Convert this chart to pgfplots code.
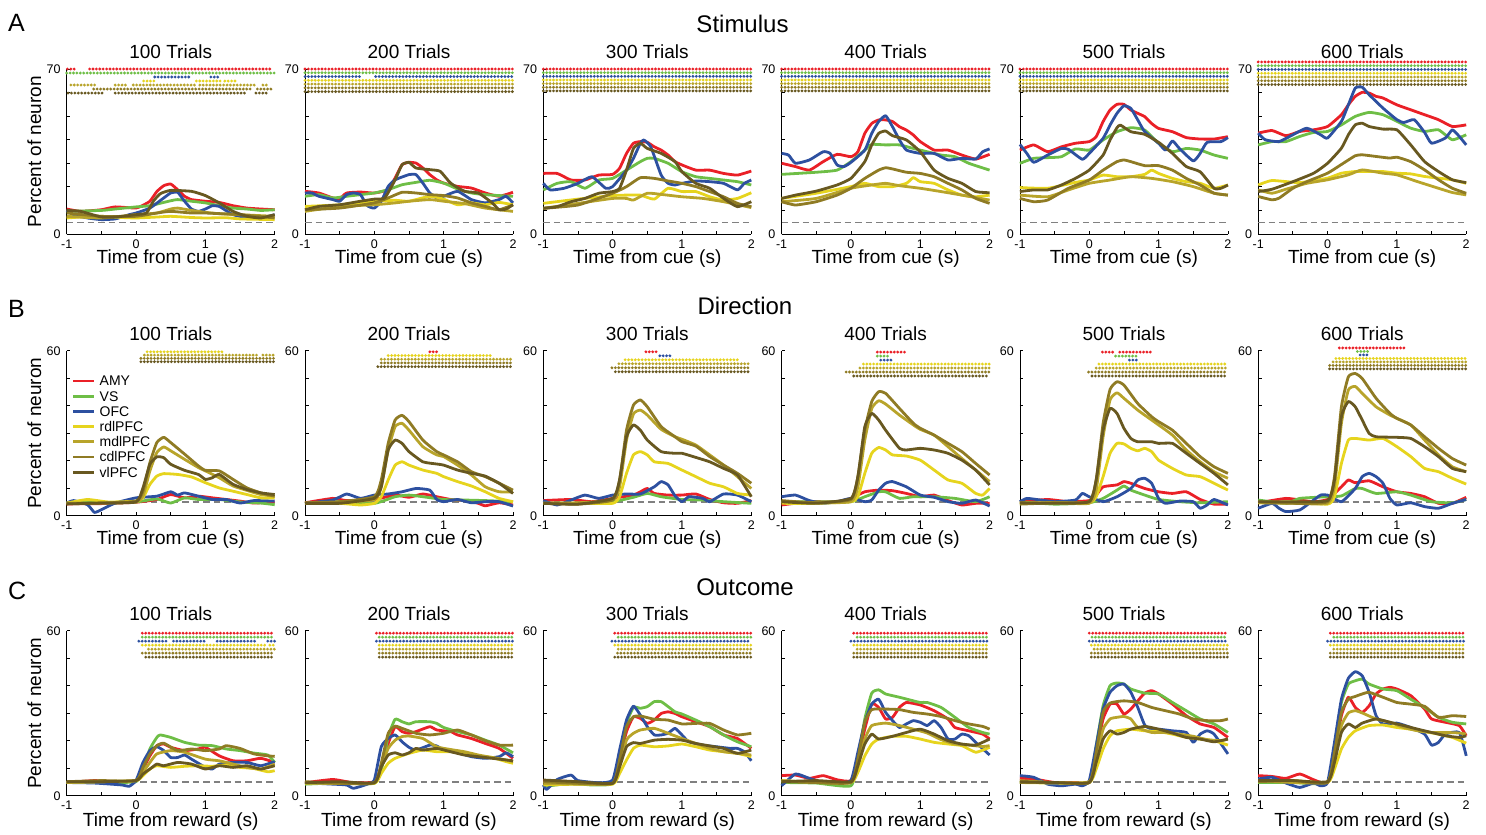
\documentclass[border=0pt]{standalone}
\usepackage{fontspec}
\setmainfont{Liberation Sans}
\usepackage{pgfplots}
\pgfplotsset{compat=1.18}
\definecolor{cAMY}{RGB}{234,32,39}
\definecolor{cVS}{RGB}{110,190,70}
\definecolor{cOFC}{RGB}{45,80,160}
\definecolor{cRD}{RGB}{230,212,30}
\definecolor{cMD}{RGB}{184,164,42}
\definecolor{cCD}{RGB}{143,123,36}
\definecolor{cVL}{RGB}{104,88,32}
\pgfplotsset{
 ln/.style={line width=2.8pt, smooth, tension=0.3, line join=round},
 sigdot/.style={line width=3.1pt, line cap=round, dash pattern=on 0pt off 3.4pt},
 chance/.style={line width=1.3pt, color=black!50, dash pattern=on 6.5pt off 4pt},
 every axis title shift=0pt,
 panel/.style={
  scale only axis, width=208pt, height=165pt, anchor=south west,
  xmin=-1, xmax=2, ymin=0,
  axis x line*=bottom, axis y line*=left,
  axis line style={line width=0.8pt, black},
  tick align=inside, major tick length=3.5pt,
  tick style={line width=0.8pt, black},
  xtick={-1,-0.5,0,0.5,1,1.5,2}, xticklabels={-1,,0,,1,,2},
  clip=false, unbounded coords=jump,
  ticklabel style={font=\fontsize{12.5}{13}\selectfont},
  xticklabel style={anchor=base, inner sep=0pt, yshift=-14pt},
  yticklabel style={anchor=east, inner sep=0pt, xshift=-6pt},
  title style={font=\fontsize{19}{22}\selectfont, at={(axis description cs:0.5,1.062)}, anchor=base, inner sep=0pt},
  xlabel style={font=\fontsize{19}{22}\selectfont, at={(axis description cs:0.5,-0.177)}, anchor=base, inner sep=0pt},
  ylabel style={font=\fontsize{19}{22}\selectfont, at={(axis description cs:-0.156,0.5)}, anchor=center},
  xlabel={Time from cue (s)},
 },
 rowA/.style={panel, ymax=70, ytick={0,10,20,30,40,50,60,70}, yticklabels={0,,,,,,,70}},
 rowB/.style={panel, ymax=60, ytick={0,10,20,30,40,50,60}, yticklabels={0,,,,,,60}},
 rowC/.style={panel, ymax=60, ytick={0,10,20,30,40,50,60}, yticklabels={0,,,,,,60}, xlabel={Time from reward (s)}, xlabel style={at={(axis description cs:0.5,-0.185)}}},
}
\newcommand{\curves}[7]{%
\addplot[forget plot, chance] coordinates {(-1,5) (2,5)};
\addplot[ln,cAMY] coordinates {#1};
\addplot[ln,cVS] coordinates {#2};
\addplot[ln,cOFC] coordinates {#3};
\addplot[ln,cRD] coordinates {#4};
\addplot[ln,cMD] coordinates {#5};
\addplot[ln,cCD] coordinates {#6};
\addplot[ln,cVL] coordinates {#7};
}
\newcommand{\sig}[2]{\addplot[forget plot, sigdot, #1] coordinates {#2};}
\newcommand{\fullrows}[7]{\sig{cAMY}{(-1,#1)(2,#1)}\sig{cVS}{(-1,#2)(2,#2)}\sig{cOFC}{(-1,#3)(2,#3)}\sig{cRD}{(-1,#4)(2,#4)}\sig{cMD}{(-1,#5)(2,#5)}\sig{cCD}{(-1,#6)(2,#6)}\sig{cVL}{(-1,#7)(2,#7)}}
\newcommand{\crows}[7]{\sig{cAMY}{(#1,59.1)(2,59.1)}\sig{cVS}{(#2,57.65)(2,57.65)}\sig{cOFC}{(#3,56.2)(2,56.2)}\sig{cRD}{(#4,54.75)(2,54.75)}\sig{cMD}{(#5,53.3)(2,53.3)}\sig{cCD}{(#6,51.85)(2,51.85)}\sig{cVL}{(#7,50.4)(2,50.4)}}
\begin{document}
\begin{tikzpicture}
\path[use as bounding box] (0pt,0pt) rectangle (1486pt,-835pt);
\node[anchor=base west, font=\fontsize{25}{27}\selectfont, inner sep=0pt] at (8pt,-31.5pt) {A};
\node[anchor=base west, font=\fontsize{25}{27}\selectfont, inner sep=0pt] at (8pt,-317.5pt) {B};
\node[anchor=base west, font=\fontsize{25}{27}\selectfont, inner sep=0pt] at (8pt,-599pt) {C};
\node[anchor=base, font=\fontsize{24}{26}\selectfont, inner sep=0pt] at (742.5pt,-32.5pt) {Stimulus};
\node[anchor=base, font=\fontsize{24}{26}\selectfont, inner sep=0pt] at (745pt,-314pt) {Direction};
\node[anchor=base, font=\fontsize{24}{26}\selectfont, inner sep=0pt] at (745pt,-595.5pt) {Outcome};
%% ---------------- Row A: Stimulus
\begin{axis}[rowA, at={(66.7pt,-234pt)}, title={100 Trials}, ylabel={Percent of neuron}]
\sig{cAMY}{(-0.99,70)(-0.85,70)(0,nan)(-0.67,70)(1.97,70)}
\sig{cVS}{(-1,68.3)(2,68.3)}
\sig{cOFC}{(0.27,66.6)(0.8,66.6)(0,nan)(1.08,66.6)(1.2,66.6)}
\sig{cRD}{(0.11,64.9)(0.3,64.9)(0,nan)(0.87,64.9)(1.23,64.9)(0,nan)(1.28,64.9)(1.46,64.9)}
\sig{cMD}{(-0.94,63.2)(-0.56,63.2)(0,nan)(-0.3,63.2)(-0.14,63.2)(0,nan)(-0.04,63.2)(0.86,63.2)(0,nan)(0.92,63.2)(1.75,63.2)(0,nan)(1.83,63.2)(1.91,63.2)}
\sig{cCD}{(-0.61,61.5)(1.65,61.5)(0,nan)(1.75,61.5)(1.97,61.5)}
\sig{cVL}{(-0.98,59.8)(-0.46,59.8)(0,nan)(-0.3,59.8)(1.57,59.8)(0,nan)(1.73,59.8)(1.9,59.8)}
\curves
{(-1,10.6)(-0.8,9.6)(-0.5,10.3)(-0.3,11.5)(0,11)(0.1,12.2)(0.2,13.9)(0.3,18)(0.4,20.5)(0.5,21.2)(0.6,18.8)(0.7,16)(0.8,14.6)(1,13.9)(1.2,13.4)(1.4,12)(1.6,11)(1.8,10.6)(2,10.3)}
{(-1,9.6)(-0.5,10)(-0.3,10.6)(0,11.5)(0.2,12)(0.4,13.4)(0.5,14.1)(0.6,14.6)(0.8,13.9)(1,13.2)(1.2,12)(1.4,11)(1.6,10.6)(1.8,10)(2,10.3)}
{(-1,10)(-0.9,8.2)(-0.7,6.8)(-0.5,6.1)(-0.3,6.4)(-0.1,8.2)(0,8.9)(0.2,11)(0.4,15.3)(0.5,17.4)(0.6,17.7)(0.7,13.9)(0.8,10.6)(0.9,9.6)(1,10.6)(1.1,12)(1.2,11.7)(1.3,9.9)(1.4,8.2)(1.6,6.8)(1.8,6.8)(2,8.2)}
{(-1,6.8)(-0.7,7.4)(-0.5,7.5)(-0.2,7.0)(0,6.8)(0.3,7.2)(0.5,7.5)(0.8,7.0)(1,6.8)(1.3,6.9)(1.5,6.4)(1.8,6.2)(2,6.1)}
{(-1,7.5)(-0.5,6.8)(0,8.2)(0.3,8.9)(0.5,10.6)(0.6,11)(0.8,10)(1,9.2)(1.2,8.6)(1.5,8.2)(2,7.5)}
{(-1,8.9)(-0.5,7.5)(0,7.5)(0.3,8.9)(0.5,9.6)(0.8,8.9)(1,8.9)(1.5,8.2)(2,6.8)}
{(-1,10)(-0.8,9.6)(-0.5,7.2)(-0.3,7.2)(0,8.2)(0.15,8.9)(0.25,13.9)(0.35,17.1)(0.5,18.5)(0.8,18.1)(1,16.3)(1.2,13.2)(1.4,9.6)(1.6,7.5)(1.8,6.8)(2,8.2)}
\end{axis}
\begin{axis}[rowA, at={(305pt,-234pt)}, title={200 Trials}]
\sig{cAMY}{(-1,70)(2,70)}
\sig{cVS}{(-1,68.4)(2,68.4)}
\sig{cOFC}{(-1,66.8)(-0.17,66.8)(0,nan)(0.02,66.8)(2,66.8)}
\sig{cRD}{(-1,65.2)(2,65.2)}
\sig{cMD}{(-1,63.6)(2,63.6)}
\sig{cCD}{(-1,62)(2,62)}
\sig{cVL}{(-1,60.4)(2,60.4)}
\curves
{(-1,18.1)(-0.8,17.4)(-0.6,15.3)(-0.5,15)(-0.4,17.4)(-0.2,17.8)(0,17.4)(0.2,18.8)(0.3,23.8)(0.4,29.4)(0.5,30.4)(0.6,30.1)(0.7,28)(0.8,25.2)(0.9,23)(1,21.6)(1.2,20.2)(1.4,19.5)(1.6,17.4)(1.8,16)(2,17.7)}
{(-1,16)(-0.8,16.7)(-0.6,15.3)(-0.4,16)(-0.2,16.7)(0,17.4)(0.2,18.8)(0.4,20.9)(0.6,21.9)(0.8,22.8)(1,21.6)(1.2,19.1)(1.4,17.4)(1.6,16.7)(1.8,16.3)(2,16)}
{(-1,17.4)(-0.9,17.4)(-0.8,16)(-0.6,14.6)(-0.5,13.9)(-0.4,16.7)(-0.3,17.4)(-0.2,16.7)(-0.1,12)(0,11)(0.1,13.9)(0.2,20.2)(0.3,23)(0.5,25.2)(0.6,25.2)(0.7,21.6)(0.8,17.4)(0.9,15.3)(1,16)(1.2,18.1)(1.4,14.6)(1.6,13.2)(1.8,14.6)(1.9,16)(2,13.2)}
{(-1,11.7)(-0.5,12.4)(0,13.9)(0.3,14.3)(0.5,13.9)(0.8,16)(1,14.8)(1.2,12.4)(1.4,13.2)(1.6,12.4)(1.8,13.4)(2,12.4)}
{(-1,9.6)(-0.5,11.7)(0,12.4)(0.3,13.2)(0.5,13.9)(0.8,14.6)(1,13.9)(1.3,12.9)(1.6,11)(2,9.6)}
{(-1,10.3)(-0.5,11)(0,13.2)(0.2,15.3)(0.4,17.7)(0.6,17.4)(0.8,16.7)(1,16.3)(1.2,15.3)(1.4,13.2)(1.6,11.7)(1.8,10.3)(2,12.4)}
{(-1,10.3)(-0.8,11.7)(-0.5,12.4)(-0.2,13.9)(0,14.8)(0.15,15.3)(0.3,23)(0.4,29.4)(0.5,30.4)(0.6,28)(0.8,27.3)(0.95,26.6)(1.1,21.6)(1.3,18.1)(1.5,17.4)(1.7,13.2)(1.8,10.3)(1.9,10.6)(2,12.4)}
\end{axis}
\begin{axis}[rowA, at={(543.3pt,-234pt)}, title={300 Trials}]
\fullrows{70}{68.45}{66.9}{65.35}{63.8}{62.25}{60.7}
\curves
{(-1,25.7)(-0.8,25.7)(-0.6,22.9)(-0.4,22.9)(-0.2,25)(0,25.3)(0.1,27.9)(0.2,34.2)(0.3,38.5)(0.4,39.2)(0.5,38.9)(0.6,37)(0.7,35.6)(0.8,33.5)(0.9,30.7)(1,29.3)(1.2,27.1)(1.4,27.1)(1.6,25.7)(1.8,25)(2,26.7)}
{(-1,18.7)(-0.8,21.5)(-0.6,22.2)(-0.4,19.4)(-0.2,22.9)(0,23.6)(0.2,27.1)(0.4,30.7)(0.5,32.1)(0.6,32.1)(0.8,30)(1,26.4)(1.2,24.3)(1.4,23.6)(1.6,22.9)(1.8,22.2)(2,20.8)}
{(-1,21.5)(-0.9,18.7)(-0.7,19.4)(-0.5,21.5)(-0.3,24.3)(-0.1,19.4)(0,20.1)(0.2,27.1)(0.3,32.1)(0.4,38.5)(0.45,39.9)(0.55,37)(0.7,25)(0.8,21.5)(0.9,20.8)(1,21.5)(1.2,22.5)(1.4,22.2)(1.6,21.5)(1.8,18.7)(1.9,21.5)(2,22.9)}
{(-1,13)(-0.5,14.8)(0,16.3)(0.2,16.5)(0.4,16.5)(0.6,14.8)(0.8,19.4)(1,18)(1.2,18)(1.4,15.8)(1.6,14.4)(1.8,15.1)(2,17.5)}
{(-1,10.9)(-0.5,13)(0,15.1)(0.2,15.1)(0.3,14.4)(0.5,17.3)(0.7,16.8)(1,15.8)(1.3,15.1)(1.6,13.7)(2,11.2)}
{(-1,10.9)(-0.5,12.3)(0,17.3)(0.2,20.1)(0.4,23.9)(0.6,23.6)(0.8,22.5)(1,21.5)(1.2,20.1)(1.4,18)(1.6,15.8)(1.8,13)(2,11.6)}
{(-1,10.9)(-0.8,11.6)(-0.6,13.7)(-0.4,15.1)(-0.2,17.3)(0,18)(0.1,19.4)(0.2,27.1)(0.3,36.3)(0.4,38.5)(0.5,36.3)(0.7,34.2)(0.9,30.7)(1,26.4)(1.2,21.5)(1.4,19.4)(1.6,15.1)(1.8,11.6)(2,13.7)}
\end{axis}
\begin{axis}[rowA, at={(781.6pt,-234pt)}, title={400 Trials}]
\fullrows{70}{68.45}{66.9}{65.35}{63.8}{62.25}{60.7}
\curves
{(-1,30)(-0.8,28.6)(-0.6,27.1)(-0.4,30.7)(-0.2,33.8)(0,32.8)(0.1,34.9)(0.2,42.7)(0.3,46.9)(0.4,48.4)(0.5,48.4)(0.6,47.7)(0.7,45.5)(0.8,44.1)(0.9,42)(1,39.2)(1.2,35.6)(1.4,35.6)(1.6,33.5)(1.8,31.8)(2,33.8)}
{(-1,25.3)(-0.5,26.2)(-0.2,27.1)(0,30.7)(0.2,35.6)(0.3,38)(0.5,37.8)(0.7,37.8)(0.9,36.3)(1.1,34.9)(1.3,33.5)(1.5,32.8)(1.7,30)(2,27.1)}
{(-1,34.2)(-0.9,33.5)(-0.8,30)(-0.6,31.4)(-0.4,34.9)(-0.3,34.2)(-0.2,29.3)(-0.1,28.6)(0,30.4)(0.2,35.6)(0.3,42.7)(0.4,47.7)(0.5,50.2)(0.6,45.5)(0.7,39.9)(0.8,35.6)(1,34.2)(1.2,34.2)(1.4,31.4)(1.6,32.1)(1.8,31.8)(1.9,34.9)(2,36.1)}
{(-1,15.1)(-0.5,17.3)(0,20.1)(0.2,21.5)(0.4,20.1)(0.6,20.1)(0.8,21.5)(0.9,23.9)(1,22.2)(1.2,21.5)(1.4,18.7)(1.6,16.5)(1.8,15.8)(2,16.5)}
{(-1,13.7)(-0.5,15.1)(0,19.4)(0.3,20.8)(0.5,21.5)(0.7,20.5)(1,19.4)(1.3,18)(1.6,16.5)(2,14.4)}
{(-1,13.7)(-0.8,12.3)(-0.5,13.7)(-0.2,16.5)(0,19.4)(0.2,23.6)(0.4,27.1)(0.5,28.1)(0.6,27.6)(0.8,26.2)(1,25.7)(1.2,24.3)(1.4,21.5)(1.6,18.7)(1.8,15.1)(2,13)}
{(-1,15.1)(-0.8,16.5)(-0.5,18.2)(-0.2,20.8)(0,23.6)(0.2,30.7)(0.3,37.8)(0.4,42.7)(0.5,43.7)(0.6,41.7)(0.8,39.9)(1,34.9)(1.2,27.1)(1.4,23.6)(1.6,21.5)(1.8,18)(2,17.5)}
\end{axis}
\begin{axis}[rowA, at={(1019.9pt,-234pt)}, title={500 Trials}]
\fullrows{70}{68.45}{66.9}{65.35}{63.8}{62.25}{60.7}
\curves
{(-1,35.6)(-0.8,37.8)(-0.6,34.9)(-0.4,37)(-0.2,38.5)(0,39.2)(0.1,41.3)(0.2,47.7)(0.3,52.6)(0.4,55)(0.5,55)(0.6,52.6)(0.7,51.2)(0.8,49.8)(0.9,46.9)(1,44.8)(1.2,43.4)(1.4,40.9)(1.6,40.3)(1.8,40.3)(2,41.3)}
{(-1,30)(-0.8,32.1)(-0.6,32.4)(-0.4,32.8)(-0.2,36.1)(0,35.6)(0.2,39.9)(0.4,43.4)(0.6,45.1)(0.8,44.1)(1,38.5)(1.2,34.9)(1.4,36.3)(1.6,35.6)(1.8,33.5)(2,32.1)}
{(-1,38)(-0.9,34.2)(-0.8,30.4)(-0.6,33.5)(-0.4,36.3)(-0.3,35.9)(-0.1,31.7)(0,34.2)(0.2,40.6)(0.3,46.2)(0.4,51.2)(0.5,54.4)(0.6,53.3)(0.7,48.4)(0.8,43.4)(1,38.5)(1.1,35.6)(1.2,39.5)(1.3,36.3)(1.5,31)(1.6,34.2)(1.7,38.9)(1.9,39.2)(2,40.9)}
{(-1,19.7)(-0.6,19.4)(-0.2,21.9)(0,22.9)(0.2,25)(0.4,24.3)(0.6,24.3)(0.8,25.3)(0.9,27.1)(1,25.7)(1.2,23.6)(1.4,22.2)(1.6,21.5)(1.8,19.4)(2,20.8)}
{(-1,16.5)(-0.6,15.8)(-0.3,18.7)(0,21.5)(0.3,22.9)(0.6,24.3)(0.9,23.6)(1.2,22.2)(1.5,20.1)(1.8,17.3)(2,16.5)}
{(-1,15.1)(-0.8,13.7)(-0.6,14.4)(-0.3,19.4)(0,22.9)(0.2,27.1)(0.4,30.7)(0.5,31.4)(0.6,30.7)(0.8,29)(1,29)(1.2,27.1)(1.4,23.6)(1.6,20.8)(1.8,17.3)(2,16.5)}
{(-1,18)(-0.8,18.7)(-0.6,18.7)(-0.4,20.8)(-0.2,23.6)(0,27.1)(0.2,33.5)(0.3,39.9)(0.4,45.1)(0.45,46.2)(0.6,43.4)(0.8,42.3)(1,38.9)(1.2,34.2)(1.4,28.6)(1.6,26.4)(1.8,19.4)(1.9,19.4)(2,20.8)}
\end{axis}
\begin{axis}[rowA, at={(1258.2pt,-234pt)}, title={600 Trials}]
\fullrows{73}{71.4}{69.8}{68.2}{66.6}{65}{63.4}
\curves
{(-1,42.8)(-0.8,43.9)(-0.6,41.7)(-0.4,43.5)(-0.2,44.2)(0,45.6)(0.2,50.6)(0.3,54.8)(0.4,58.4)(0.5,60.1)(0.6,59.8)(0.7,58.4)(0.8,57.7)(1,54.8)(1.2,52.7)(1.4,50.6)(1.6,48.5)(1.8,45.6)(2,46.3)}
{(-1,37.8)(-0.8,39.2)(-0.6,39.2)(-0.4,41.4)(-0.2,43.1)(0,43.5)(0.2,46.3)(0.4,49.9)(0.6,51.6)(0.8,50.6)(1,47.8)(1.2,44.9)(1.4,43.5)(1.6,44.2)(1.8,40)(2,42.1)}
{(-1,42.8)(-0.9,40)(-0.7,39.2)(-0.5,42.1)(-0.3,44.9)(-0.1,42.1)(0,40.7)(0.2,47.8)(0.3,54.8)(0.4,61.9)(0.5,62.3)(0.6,59.1)(0.8,53.4)(1,48.5)(1.1,47.3)(1.25,48.5)(1.4,43.1)(1.5,38.5)(1.7,40.7)(1.8,44.2)(1.9,41.4)(2,37.8)}
{(-1,20.8)(-0.8,22.7)(-0.4,21.8)(0,23.7)(0.2,25.8)(0.4,26.5)(0.6,26.5)(0.8,26.5)(1,25.8)(1.2,25.5)(1.4,24.4)(1.6,23.7)(1.8,23)(2,21.5)}
{(-1,18.7)(-0.8,17.3)(-0.6,19)(-0.3,21.5)(0,23)(0.3,25.1)(0.5,27.2)(0.8,25.8)(1,25.1)(1.3,22.2)(1.6,19.4)(1.8,17.6)(2,16.6)}
{(-1,15.9)(-0.8,14.5)(-0.7,15.2)(-0.5,19.4)(-0.3,22.2)(0,25.8)(0.2,29.5)(0.4,33.2)(0.5,33.6)(0.7,32.9)(0.9,32.2)(1,32.6)(1.2,30.7)(1.4,27.2)(1.6,23)(1.8,19.4)(2,17.3)}
{(-1,18)(-0.8,19)(-0.5,22.2)(-0.2,25.8)(0,30)(0.2,36.4)(0.3,42.1)(0.4,46.3)(0.5,47)(0.6,45.6)(0.8,44.5)(1,44.2)(1.2,37.8)(1.4,30.7)(1.6,26.5)(1.8,23)(2,21.8)}
\end{axis}
%% ---------------- Row B: Direction
\begin{axis}[rowB, at={(66.7pt,-515.7pt)}, title={100 Trials}, ylabel={Percent of neuron},
  legend style={at={(axis description cs:0.024,0.864)}, anchor=north west, draw=none, fill=none,
    font=\fontsize{14}{15}\selectfont, inner xsep=0pt, inner ysep=0pt, row sep=0pt, column sep=4pt,
    nodes={inner sep=0pt, text height=12.6pt, text depth=2.6pt}},
  legend cell align=left,
  legend image code/.code={\draw[#1] (0pt,0pt) -- (21pt,0pt);}]
\curves
{(-1,4.3)(-0.5,4.4)(0,4.9)(0.3,5.9)(0.5,7.7)(0.7,6.5)(0.9,7.1)(1.1,6.5)(1.3,5.9)(1.5,5.3)(1.7,4.6)(2,5)}
{(-1,4.6)(-0.7,5.3)(-0.4,4.6)(0,5)(0.3,6.1)(0.5,4.6)(0.7,6.5)(0.9,5.9)(1.2,5.9)(1.5,5)(1.8,4.6)(2,4)}
{(-1,4.6)(-0.9,5.5)(-0.7,4)(-0.6,1.2)(-0.5,2.2)(-0.3,4.6)(0,6.5)(0.3,7.1)(0.5,8.7)(0.6,7.5)(0.7,8.3)(0.9,7.1)(1.1,5.9)(1.3,5.9)(1.5,4.6)(1.7,5.5)(2,5.3)}
{(-1,4.6)(-0.7,5.9)(-0.4,5)(0,5.3)(0.1,6.5)(0.2,11.4)(0.3,14.4)(0.4,15.3)(0.6,15)(0.8,14.1)(1,12)(1.2,10.1)(1.4,8.9)(1.6,7.7)(1.8,6.5)(2,6.5)}
{(-1,4.6)(-0.5,4.6)(0,5)(0.1,7.1)(0.2,16.3)(0.3,23)(0.4,25)(0.5,23.6)(0.7,20.5)(0.9,17.5)(1,16.3)(1.2,13.8)(1.4,10.8)(1.6,9.2)(1.8,7.7)(2,7.1)}
{(-1,4.3)(-0.5,4.6)(0,5.3)(0.1,8.9)(0.2,19.3)(0.3,26.6)(0.4,28.5)(0.5,26.6)(0.7,22.4)(0.9,18.1)(1,16.5)(1.2,16.3)(1.4,13.2)(1.6,10.1)(1.8,8.3)(2,7.1)}
{(-1,4.3)(-0.5,4.6)(0,5)(0.1,10.1)(0.2,18.7)(0.3,21.4)(0.4,21.1)(0.5,18.7)(0.7,16.5)(0.9,15)(1,13.2)(1.1,13.8)(1.2,15)(1.4,11.4)(1.6,9.5)(1.8,8.3)(2,7.7)}
\legend{AMY,VS,OFC,rdlPFC,mdlPFC,cdlPFC,vlPFC}
\sig{cRD}{(0.16,59.6)(1.27,59.6)}
\sig{cMD}{(0.12,58.4)(1.75,58.4)(0,nan)(1.83,58.4)(2,58.4)}
\sig{cCD}{(0.07,57.2)(2,57.2)}
\sig{cVL}{(0.07,56)(2,56)}
\end{axis}
\begin{axis}[rowB, at={(305pt,-515.7pt)}, title={200 Trials}]
\sig{cAMY}{(0.8,59.6)(0.94,59.6)}
\sig{cRD}{(0.2,58.25)(1.68,58.25)}
\sig{cMD}{(0.1,56.9)(2,56.9)}
\sig{cCD}{(0.1,55.55)(2,55.55)}
\sig{cVL}{(0.05,54.2)(2,54.2)}
\curves
{(-1,4.7)(-0.6,6.3)(-0.4,5.5)(0,5.9)(0.3,7.5)(0.5,6.7)(0.7,7.9)(0.9,6.9)(1.1,5.9)(1.3,5.5)(1.5,4.5)(1.6,3.6)(1.8,4.7)(2,3.9)}
{(-1,4.5)(-0.5,5.1)(0,4.5)(0.3,6.9)(0.5,7.5)(0.7,6.9)(1,5.9)(1.3,5.7)(1.6,5.5)(2,5.1)}
{(-1,4.5)(-0.6,5.7)(-0.4,7.9)(-0.2,6.3)(0,7.5)(0.2,7.9)(0.4,8.7)(0.6,9.9)(0.8,9.3)(0.9,5.9)(1,5.1)(1.2,5.9)(1.4,4.7)(1.6,5.1)(1.8,5.1)(2,3.5)}
{(-1,4.5)(-0.5,4.5)(-0.2,3.9)(0,4.5)(0.1,6.9)(0.2,13)(0.3,18.4)(0.4,19.6)(0.5,18.4)(0.7,16.6)(0.9,15.4)(1,14.2)(1.2,12.4)(1.4,10.8)(1.6,8.7)(1.8,6.3)(2,5.1)}
{(-1,4.5)(-0.5,4.7)(0,5.9)(0.1,10.5)(0.2,23.9)(0.3,32.4)(0.4,33.6)(0.5,31.1)(0.7,25.1)(0.9,22.1)(1,21.5)(1.2,18.4)(1.4,14.8)(1.6,10.5)(1.8,8.7)(2,8.7)}
{(-1,4.7)(-0.5,5.1)(0,6.9)(0.1,13)(0.2,26.3)(0.3,34.8)(0.4,36.5)(0.5,34.2)(0.7,27.5)(0.9,23.3)(1,22.1)(1.2,19.6)(1.4,16)(1.6,14.2)(1.8,11.8)(2,9.3)}
{(-1,4.5)(-0.5,4.5)(0,6.3)(0.1,10.5)(0.2,23.9)(0.3,27.5)(0.4,26.3)(0.5,23.3)(0.7,19.6)(0.9,18.8)(1,18.4)(1.2,16.6)(1.4,15.4)(1.6,14.4)(1.8,11.8)(2,8.1)}
\end{axis}
\begin{axis}[rowB, at={(543.3pt,-515.7pt)}, title={300 Trials}]
\sig{cAMY}{(0.48,59.6)(0.64,59.6)}
\sig{cOFC}{(0.68,58.15)(0.83,58.15)}
\sig{cRD}{(0.18,56.7)(1.81,56.7)}
\sig{cMD}{(0.09,55.25)(2,55.25)}
\sig{cCD}{(-0.01,53.8)(2,53.8)}
\sig{cVL}{(0.04,52.35)(1.98,52.35)}
\curves
{(-1,5.5)(-0.6,5.9)(-0.3,5.1)(0,6.3)(0.3,7.5)(0.4,8.7)(0.5,9.9)(0.6,8.1)(0.8,7.5)(1,7.5)(1.2,7.9)(1.4,5.9)(1.6,4.7)(1.8,4.5)(2,5.5)}
{(-1,4.7)(-0.5,4.5)(0,5.1)(0.3,6.7)(0.5,8.1)(0.7,6.9)(1,5.9)(1.3,5.7)(1.6,5.1)(2,4.5)}
{(-1,5.5)(-0.8,3.9)(-0.6,5.7)(-0.4,7.5)(-0.2,6.3)(0,7.5)(0.2,7.9)(0.4,7.9)(0.6,10.5)(0.7,12.4)(0.8,11.2)(0.9,7.2)(1,5.1)(1.1,6.9)(1.3,6.3)(1.4,5.1)(1.6,7.9)(1.8,7.5)(2,5.1)}
{(-1,4.5)(-0.5,4.5)(0,4.5)(0.1,6.9)(0.2,15.4)(0.3,22.1)(0.4,23.3)(0.5,22.1)(0.6,19.6)(0.8,19)(1,16.6)(1.2,14.2)(1.4,11.8)(1.6,10.5)(1.8,8.1)(2,7.5)}
{(-1,4.5)(-0.5,4.7)(0,5.7)(0.1,10.5)(0.2,27.5)(0.3,37)(0.4,38.4)(0.5,36.6)(0.7,31.4)(0.9,28.7)(1,27.8)(1.2,25.7)(1.4,22.1)(1.6,18.4)(1.8,14.2)(2,9.9)}
{(-1,4.5)(-0.5,4.2)(0,5.7)(0.1,13)(0.2,31.1)(0.3,40.2)(0.4,42.1)(0.5,39.6)(0.7,32.4)(0.9,28.7)(1,26.9)(1.2,25.3)(1.4,21.5)(1.6,18.4)(1.8,15.4)(2,11.8)}
{(-1,4.5)(-0.5,4.2)(0,6.3)(0.1,13)(0.2,28.7)(0.3,33)(0.4,31.1)(0.5,27.5)(0.7,23.3)(0.9,22.7)(1,22.7)(1.2,21.2)(1.4,19.6)(1.6,17.2)(1.8,14.8)(2,6.9)}
\end{axis}
\begin{axis}[rowB, at={(781.6pt,-515.7pt)}, title={400 Trials}]
\sig{cAMY}{(0.38,59.5)(0.82,59.5)}
\sig{cVS}{(0.38,58.05)(0.57,58.05)}
\sig{cOFC}{(0.43,56.6)(0.62,56.6)}
\sig{cRD}{(0.18,55.15)(2,55.15)}
\sig{cMD}{(0.13,53.7)(2,53.7)}
\sig{cCD}{(-0.07,52.25)(2,52.25)}
\sig{cVL}{(0.04,50.8)(2,50.8)}
\curves
{(-1,3.9)(-0.6,5.1)(-0.2,5.1)(0,6.3)(0.2,8.7)(0.4,9.3)(0.6,9.1)(0.8,8.1)(1,6.9)(1.2,7.5)(1.4,5.5)(1.6,3.9)(1.8,4.5)(2,4.5)}
{(-1,5.1)(-0.5,5.1)(0,5.1)(0.2,6.9)(0.4,8.7)(0.5,8.7)(0.7,6.3)(0.9,6.9)(1.2,6.9)(1.5,6.3)(1.8,5.1)(2,6.9)}
{(-1,6.9)(-0.8,7.5)(-0.6,5.5)(-0.4,4.5)(-0.2,5.1)(0,6.3)(0.2,5.1)(0.3,5.7)(0.4,9.3)(0.5,11.8)(0.6,12.4)(0.8,10.5)(1,7.5)(1.2,6.7)(1.4,5.1)(1.6,4.5)(1.8,5.7)(2,3.5)}
{(-1,4.5)(-0.5,4.5)(0,5.1)(0.1,6.9)(0.2,15.4)(0.3,22.7)(0.4,24.8)(0.5,23.9)(0.6,22.1)(0.8,21.7)(1,20.2)(1.2,16.6)(1.4,13)(1.6,11.8)(1.8,8.1)(1.9,7.5)(2,9.9)}
{(-1,5.1)(-0.5,4.7)(0,5.1)(0.1,10.5)(0.2,27.5)(0.3,39)(0.4,41.8)(0.5,40.6)(0.7,36.6)(0.9,33)(1,31.4)(1.2,29.3)(1.4,25.1)(1.6,20.8)(1.8,16.6)(2,12.4)}
{(-1,5.5)(-0.5,4.7)(0,5.9)(0.1,14.2)(0.2,31.1)(0.3,41.5)(0.4,45.1)(0.5,44.5)(0.7,39)(0.9,33.6)(1,31.8)(1.2,29.3)(1.4,26.3)(1.6,23.3)(1.8,19)(2,14.8)}
{(-1,5.1)(-0.5,4.5)(0,6.3)(0.1,14.2)(0.2,32.4)(0.3,37.2)(0.4,34.8)(0.5,31.1)(0.7,24.5)(0.8,23.9)(1,24.5)(1.2,23.9)(1.4,22.7)(1.6,20.2)(1.8,16.6)(2,11.2)}
\end{axis}
\begin{axis}[rowB, at={(1019.9pt,-515.7pt)}, title={500 Trials}]
\sig{cAMY}{(0.19,59.5)(0.36,59.5)(0,nan)(0.44,59.5)(0.93,59.5)}
\sig{cVS}{(0.38,58.05)(0.68,58.05)}
\sig{cOFC}{(0.58,56.6)(0.71,56.6)}
\sig{cRD}{(0.14,55.15)(2,55.15)}
\sig{cMD}{(0.1,53.7)(2,53.7)}
\sig{cCD}{(-0.01,52.25)(2,52.25)}
\sig{cVL}{(0.04,50.8)(2,50.8)}
\curves
{(-1,5.1)(-0.6,5.9)(-0.3,5.1)(0,5.5)(0.1,7.5)(0.2,10.5)(0.4,11.2)(0.5,12.4)(0.6,11.8)(0.8,9.9)(1,8.7)(1.2,8.1)(1.4,8.7)(1.6,5.9)(1.8,4.2)(2,4.2)}
{(-1,5.1)(-0.5,4.2)(0,4.7)(0.2,6.3)(0.4,9.3)(0.5,10.8)(0.6,9.3)(0.8,7.5)(1,5.9)(1.3,5.1)(1.6,4.7)(2,5.1)}
{(-1,5.1)(-0.9,6.3)(-0.7,5.7)(-0.5,5.1)(-0.2,5.7)(-0.1,8.1)(0,6.9)(0.2,5.1)(0.4,6.9)(0.6,9.9)(0.7,13)(0.8,13.6)(0.9,11.8)(1,6.3)(1.1,4.5)(1.3,5.3)(1.5,5.1)(1.6,2.7)(1.7,3.9)(1.8,5.9)(2,3.9)}
{(-1,4.5)(-0.5,4.7)(0,4.7)(0.1,6.9)(0.2,14.2)(0.3,22.7)(0.4,26.3)(0.5,26.1)(0.6,24.5)(0.7,23.6)(0.8,24.5)(0.9,23.3)(1,20.2)(1.2,17.2)(1.4,14.8)(1.6,14.2)(1.8,11.8)(2,9.3)}
{(-1,4.7)(-0.5,4.7)(0,4.5)(0.1,9.3)(0.2,28.7)(0.3,42.1)(0.4,44.7)(0.5,42.7)(0.7,38.4)(0.9,34.8)(1,33)(1.2,29.3)(1.4,23.9)(1.6,19.6)(1.8,16)(2,13.6)}
{(-1,4.2)(-0.5,4.7)(0,5.1)(0.1,13)(0.2,33.6)(0.3,45.9)(0.4,48.7)(0.5,47.5)(0.7,40.8)(0.9,36)(1,34.2)(1.2,31.1)(1.4,26.3)(1.6,21.5)(1.8,17.8)(2,15.4)}
{(-1,4.7)(-0.5,4.5)(0,5.1)(0.1,13)(0.2,31.1)(0.3,39)(0.4,37.2)(0.5,31.8)(0.6,28.1)(0.7,26.9)(0.9,26.9)(1,26.3)(1.2,26.3)(1.4,22.7)(1.6,19)(1.8,15.4)(2,11.2)}
\end{axis}
\begin{axis}[rowB, at={(1258.2pt,-515.7pt)}, title={600 Trials}]
\sig{cAMY}{(0.17,61)(1.15,61)}
\sig{cVS}{(0.43,59.73)(0.6,59.73)}
\sig{cOFC}{(0.47,58.46)(0.6,58.46)}
\sig{cRD}{(0.12,57.19)(2,57.19)}
\sig{cMD}{(0.08,55.92)(2,55.92)}
\sig{cCD}{(0.03,54.65)(2,54.65)}
\sig{cVL}{(0.03,53.38)(2,53.38)}
\curves
{(-1,4.7)(-0.6,6.3)(-0.4,5.7)(-0.2,5.1)(0,5.9)(0.2,10.5)(0.3,13)(0.4,12)(0.6,12.7)(0.8,10.5)(1,8.7)(1.2,8.1)(1.4,6.9)(1.6,4.5)(1.8,4.5)(2,6.7)}
{(-1,5.7)(-0.6,4.5)(-0.4,6.3)(0,6.9)(0.2,7.2)(0.4,9.9)(0.5,9.9)(0.7,8.1)(1,8.7)(1.2,7.5)(1.5,5.1)(1.8,4.7)(2,5.9)}
{(-1,2.7)(-0.8,4.5)(-0.7,2.7)(-0.6,1.5)(-0.4,2.1)(-0.2,5.7)(-0.1,7.5)(0,7.5)(0.2,5.1)(0.4,9.9)(0.5,14.2)(0.6,15.4)(0.7,14.2)(0.8,11.8)(0.9,6.3)(1,3.9)(1.2,4.7)(1.4,3.3)(1.6,2.7)(1.8,4.5)(2,5.9)}
{(-1,4.7)(-0.5,5.1)(0,4.2)(0.1,6.9)(0.2,19)(0.3,27.5)(0.4,28.1)(0.6,27.5)(0.8,28.1)(1,25.1)(1.2,21.5)(1.4,17.2)(1.6,16)(1.8,13.6)(2,11.5)}
{(-1,4.7)(-0.5,4.5)(0,4.5)(0.1,10.5)(0.2,33.6)(0.3,45.7)(0.4,47)(0.5,44.5)(0.7,39.6)(0.9,36.6)(1,35.4)(1.2,33)(1.4,27.5)(1.6,22.1)(1.8,17.8)(2,16)}
{(-1,5.1)(-0.5,4.5)(0,5.1)(0.1,14.2)(0.2,39.6)(0.3,50.5)(0.4,51.7)(0.5,49.9)(0.7,42.7)(0.9,37.2)(1,35.4)(1.2,33)(1.4,28.7)(1.6,24.5)(1.8,20.8)(2,18.4)}
{(-1,5.1)(-0.5,5.1)(0,5.5)(0.1,13)(0.2,36)(0.3,41.5)(0.4,39.6)(0.5,34.8)(0.6,29.9)(0.7,28.7)(1,28.5)(1.2,28.1)(1.4,25.1)(1.6,21.5)(1.8,17.2)(2,16)}
\end{axis}
%% ---------------- Row C: Outcome
\begin{axis}[rowC, at={(66.7pt,-795.7pt)}, title={100 Trials}, ylabel={Percent of neuron}]
\sig{cAMY}{(0.09,59.1)(2,59.1)}
\sig{cVS}{(0.09,57.65)(2,57.65)}
\sig{cOFC}{(0.04,56.2)(0.48,56.2)(0,nan)(0.54,56.2)(1.03,56.2)(0,nan)(1.17,56.2)(1.75,56.2)(0,nan)(1.9,56.2)(2,56.2)}
\sig{cRD}{(0.09,54.75)(1.87,54.75)(0,nan)(1.93,54.75)(2,54.75)}
\sig{cMD}{(0.18,53.3)(2,53.3)}
\sig{cCD}{(0.09,51.85)(2,51.85)}
\sig{cVL}{(0.14,50.4)(2,50.4)}
\curves
{(-1,4.8)(-0.6,5.5)(-0.3,5.1)(0,5.5)(0.1,9.7)(0.2,14.5)(0.3,18.2)(0.4,18.8)(0.5,17.6)(0.7,16.4)(0.9,17)(1,17.6)(1.2,14.5)(1.4,12.7)(1.6,12.7)(1.8,13.6)(2,12.1)}
{(-1,4.8)(-0.5,4.8)(0,5.1)(0.1,9.7)(0.2,17)(0.3,21.2)(0.35,22.1)(0.5,21.2)(0.7,19.4)(0.9,18.4)(1.1,18.2)(1.3,17)(1.5,16.4)(1.7,15.5)(1.9,14.8)(2,12.1)}
{(-1,4.8)(-0.6,4.6)(-0.2,3.9)(-0.1,3.4)(0,5.5)(0.1,12.1)(0.2,16.4)(0.3,17.8)(0.4,16.4)(0.5,13.9)(0.6,13.9)(0.7,14.8)(0.8,13.3)(1,10.3)(1.1,9.7)(1.2,11.5)(1.4,12.1)(1.6,12.1)(1.8,10.9)(2,12.4)}
{(-1,4.8)(-0.5,5.1)(0,5.5)(0.1,7.3)(0.2,9.7)(0.3,10.9)(0.5,10.3)(0.7,10.7)(0.9,10.9)(1.1,10.7)(1.3,11.2)(1.5,10.3)(1.7,9.9)(1.9,8.7)(2,9.1)}
{(-1,4.8)(-0.5,5.1)(0,5.5)(0.1,8.5)(0.2,12.1)(0.3,15.2)(0.5,16.4)(0.7,15.8)(1,13.3)(1.2,12.7)(1.4,11.5)(1.6,10.3)(1.8,9.7)(2,11.5)}
{(-1,5.1)(-0.5,5.5)(0,5.5)(0.1,10.3)(0.2,15.2)(0.3,18.2)(0.4,19.1)(0.6,16.4)(0.8,17)(1,16.4)(1.2,17)(1.3,18.2)(1.5,17.2)(1.7,15.2)(1.9,14.5)(2,14.3)}
{(-1,5.1)(-0.5,5.1)(0,5.5)(0.1,7.9)(0.2,9.7)(0.3,11.5)(0.4,10.9)(0.6,12.1)(0.8,11.5)(1,9.7)(1.2,10.9)(1.4,10.3)(1.6,10.9)(1.8,9.7)(2,10.9)}
\end{axis}
\begin{axis}[rowC, at={(305pt,-795.7pt)}, title={200 Trials}]
\crows{0.03}{0.07}{0.03}{0.07}{0.07}{0.07}{0.07}
\curves
{(-1,4.7)(-0.6,5.9)(-0.3,4.7)(0,5.1)(0.1,10.5)(0.2,19)(0.3,25.1)(0.4,23.3)(0.5,22.7)(0.6,23.3)(0.8,25.1)(0.9,23.9)(1.1,23.3)(1.2,22.1)(1.4,20.8)(1.6,19)(1.8,17.2)(2,13.6)}
{(-1,4.2)(-0.5,4.7)(0,4.5)(0.1,9.3)(0.2,21.5)(0.3,27.8)(0.4,26.9)(0.5,26.1)(0.6,26.9)(0.8,26.9)(0.9,26.3)(1,24.8)(1.2,23.3)(1.4,22.1)(1.6,20.2)(1.8,18.4)(2,15.6)}
{(-1,4.7)(-0.6,4.2)(-0.4,3.9)(-0.3,2.7)(-0.1,4.2)(0,5.7)(0.1,17.8)(0.2,20.8)(0.3,22.1)(0.4,19.6)(0.5,17.6)(0.6,16.6)(0.8,18.4)(0.9,18.1)(1,16.6)(1.2,15.6)(1.4,14.2)(1.6,13.6)(1.8,14.2)(1.9,15.6)(2,14.2)}
{(-1,4.5)(-0.5,4.5)(0,4.5)(0.1,8.1)(0.2,11.8)(0.3,13.6)(0.5,15.4)(0.7,16.6)(0.9,16)(1.1,16)(1.3,15.4)(1.5,14.4)(1.7,13.9)(1.9,12.4)(2,11.8)}
{(-1,4.7)(-0.5,4.5)(0,4.7)(0.1,10.5)(0.2,17.2)(0.3,20.2)(0.4,21.5)(0.5,21.7)(0.7,20.8)(0.9,17.8)(1.1,16.8)(1.3,16)(1.5,14.8)(1.7,13.9)(1.9,13)(2,12.4)}
{(-1,5.1)(-0.5,4.5)(0,4.7)(0.1,11.8)(0.2,22.7)(0.3,25.3)(0.4,24.5)(0.6,22.7)(0.8,22.1)(1,22.7)(1.2,23.9)(1.4,22.1)(1.6,20)(1.8,18.4)(2,18.4)}
{(-1,4.7)(-0.5,5.1)(0,4.7)(0.1,10.5)(0.2,14.8)(0.3,15.6)(0.4,14.8)(0.5,15.6)(0.6,17.2)(0.7,16.6)(0.9,17.2)(1.1,16)(1.3,14.8)(1.5,14.2)(1.7,13.6)(1.9,13)(2,12.7)}
\end{axis}
\begin{axis}[rowC, at={(543.3pt,-795.7pt)}, title={300 Trials}]
\crows{0.03}{0.08}{-0.01}{0.03}{0.08}{0.07}{0.03}
\curves
{(-1,5.5)(-0.6,5.1)(-0.3,4.5)(0,4.7)(0.1,13)(0.2,23.3)(0.3,28.7)(0.4,28.1)(0.5,26.3)(0.6,27.5)(0.7,29.9)(0.8,30.5)(0.9,29.9)(1,28.7)(1.2,26.9)(1.4,25.1)(1.6,22.1)(1.8,20.8)(2,17.2)}
{(-1,3.3)(-0.6,4.5)(-0.3,3.9)(0,4.5)(0.1,14.2)(0.2,26.3)(0.3,32.1)(0.4,31.8)(0.5,32.4)(0.6,34.2)(0.7,34.2)(0.8,32.4)(0.9,30.5)(1,29.7)(1.2,27.5)(1.4,25.1)(1.6,22.1)(1.8,19.6)(2,17.8)}
{(-1,3.9)(-0.95,2.3)(-0.8,5.9)(-0.6,7.5)(-0.5,5.5)(-0.2,4.7)(0,5.7)(0.1,16.6)(0.2,27.5)(0.3,32.6)(0.4,29.3)(0.5,25.1)(0.6,22.1)(0.7,22.1)(0.8,22.7)(0.9,24.5)(1,22.1)(1.1,19.6)(1.3,18.4)(1.5,17.8)(1.7,17.2)(1.8,17.2)(1.9,16)(2,12.7)}
{(-1,3.9)(-0.5,4.2)(0,4.2)(0.1,8.1)(0.2,13)(0.3,17.2)(0.4,18.4)(0.6,17.8)(0.8,18.1)(1,18.8)(1.2,17.8)(1.4,16.6)(1.6,16)(1.8,15.4)(2,14.2)}
{(-1,4.5)(-0.5,4.2)(0,4.5)(0.1,10.5)(0.2,20.2)(0.3,22.7)(0.4,23.9)(0.6,24.5)(0.8,22.7)(1,20.8)(1.2,19)(1.4,17.2)(1.6,16)(1.8,15.4)(2,14.8)}
{(-1,5.1)(-0.5,4.5)(0,4.5)(0.1,13)(0.2,25.1)(0.3,28.7)(0.4,29)(0.6,27.8)(0.8,27.5)(1,26.1)(1.2,26.3)(1.4,26.3)(1.6,23.9)(1.8,22.1)(2,22.7)}
{(-1,5.7)(-0.5,5.1)(0,4.5)(0.1,10.5)(0.2,17.8)(0.3,19.3)(0.4,19)(0.6,20.2)(0.8,20.5)(1,20.2)(1.2,19)(1.4,18.1)(1.6,17.2)(1.8,15.4)(2,16.6)}
\end{axis}
\begin{axis}[rowC, at={(781.6pt,-795.7pt)}, title={400 Trials}]
\crows{0.04}{0.09}{0}{0.04}{0.09}{0.04}{0.04}
\curves
{(-1,7.3)(-0.8,7.5)(-0.6,6.3)(-0.4,7.3)(-0.2,5.8)(0,5.5)(0.1,13.3)(0.2,24.2)(0.3,33.3)(0.4,32.1)(0.5,27.9)(0.6,28.5)(0.7,32.1)(0.8,33.9)(1,33)(1.2,30.9)(1.4,27.9)(1.5,24.8)(1.7,23.6)(1.9,22.4)(2,20.6)}
{(-1,4.8)(-0.5,4.6)(0,3.6)(0.1,13.3)(0.2,27.9)(0.3,37.3)(0.4,38.5)(0.5,37)(0.7,35.8)(0.9,34.5)(1,33.9)(1.1,33.9)(1.3,32.1)(1.5,28.5)(1.7,24.8)(1.9,23)(2,22.4)}
{(-1,3.6)(-0.8,7.9)(-0.6,6.3)(-0.4,4.8)(-0.2,4.8)(0,5.5)(0.1,15.8)(0.2,26.7)(0.3,33.3)(0.4,35.1)(0.5,30.3)(0.6,27.3)(0.7,24.8)(0.8,26.1)(0.9,27.3)(1,26.7)(1.1,25.5)(1.2,27.3)(1.3,24.8)(1.4,20.6)(1.5,20.6)(1.6,22.4)(1.7,21.8)(1.8,19.4)(2,14.8)}
{(-1,5.5)(-0.5,4.8)(0,4.8)(0.1,8.5)(0.2,14.5)(0.3,18.8)(0.4,20.6)(0.6,21.6)(0.8,21.6)(1,20.6)(1.2,19.4)(1.4,18.8)(1.6,18.2)(1.8,15.8)(2,17.6)}
{(-1,5.5)(-0.5,4.8)(0,4.8)(0.1,10.9)(0.2,20.6)(0.3,25.5)(0.5,26.4)(0.7,25.5)(0.9,24.2)(1.1,22.8)(1.3,20.4)(1.5,18.8)(1.7,18.4)(1.9,17.9)(2,18.2)}
{(-1,5.1)(-0.5,4.8)(0,4.8)(0.1,13.3)(0.2,26.7)(0.3,31.3)(0.5,31.5)(0.7,31.3)(0.9,30.3)(1.1,29.7)(1.3,28.8)(1.5,27.3)(1.7,26.1)(1.9,25.2)(2,24.2)}
{(-1,5.1)(-0.5,5.5)(0,5.1)(0.1,10.9)(0.2,18.8)(0.3,22.4)(0.4,20.6)(0.6,21.6)(0.8,23)(1,24.2)(1.2,22.4)(1.4,20)(1.6,18.8)(1.8,18.4)(2,20.6)}
\end{axis}
\begin{axis}[rowC, at={(1019.9pt,-795.7pt)}, title={500 Trials}]
\crows{0}{0.04}{0}{0.03}{0.07}{0.03}{0.03}
\curves
{(-1,6.3)(-0.8,6.1)(-0.5,4.8)(-0.2,4.8)(0,4.8)(0.1,15.8)(0.2,27.9)(0.3,33.3)(0.4,33.3)(0.5,29.7)(0.6,31.5)(0.7,34.5)(0.8,37.3)(0.9,38.2)(1,37)(1.2,33.3)(1.4,29.1)(1.6,26.1)(1.8,24.8)(2,21.2)}
{(-1,4.8)(-0.5,4.8)(0,4.8)(0.1,18.2)(0.2,32.7)(0.3,40)(0.4,41)(0.5,40.6)(0.6,38.8)(0.8,37.3)(1,37)(1.2,33.9)(1.4,30.9)(1.6,27.9)(1.8,26.1)(2,23)}
{(-1,7.3)(-0.8,6.7)(-0.6,4.2)(-0.4,3.6)(-0.2,4.2)(-0.1,3.6)(0,5.5)(0.1,18.2)(0.2,31.5)(0.3,37.6)(0.4,40)(0.5,40.6)(0.6,37.6)(0.7,32.1)(0.8,25.7)(0.9,24.2)(1,24.2)(1.2,23.6)(1.4,23)(1.5,19.4)(1.6,22.4)(1.7,23.6)(1.8,22.4)(2,15.2)}
{(-1,4.8)(-0.5,4.6)(0,4.8)(0.1,9.7)(0.2,17)(0.3,21.8)(0.4,23.6)(0.6,24.2)(0.8,23.6)(1,23.3)(1.2,22.4)(1.4,21.2)(1.6,20.6)(1.8,20)(2,18.4)}
{(-1,5.5)(-0.5,4.8)(0,5.1)(0.1,13.3)(0.2,24.2)(0.3,27.9)(0.4,28.5)(0.5,28.8)(0.6,27.9)(0.7,24.8)(0.9,23)(1.1,23)(1.3,22.4)(1.5,21.6)(1.7,20.4)(1.9,20)(2,20.6)}
{(-1,4.8)(-0.5,4.8)(0,4.8)(0.1,15.8)(0.2,30.3)(0.3,33.7)(0.5,34.5)(0.7,33.9)(0.9,32.1)(1.1,30.9)(1.3,29.7)(1.5,27.9)(1.7,27.3)(1.9,27.3)(2,27.9)}
{(-1,5.1)(-0.5,4.8)(0,4.8)(0.1,12.1)(0.2,20.6)(0.3,23.6)(0.4,22.4)(0.5,23)(0.6,24.2)(0.8,25.2)(1,24.2)(1.2,22.8)(1.4,21.2)(1.6,20.6)(1.8,19.6)(2,20.6)}
\end{axis}
\begin{axis}[rowC, at={(1258.2pt,-795.7pt)}, title={600 Trials}]
\crows{0.04}{0.09}{0}{0.04}{0.09}{0.04}{0.04}
\curves
{(-1,7.3)(-0.8,7)(-0.6,6.3)(-0.4,7.9)(-0.2,5.8)(0,4.6)(0.1,15.8)(0.2,29.1)(0.3,35.8)(0.4,32.1)(0.5,30.3)(0.6,32.7)(0.7,37)(0.8,38.8)(0.9,39.4)(1,38.8)(1.2,36.4)(1.4,31.5)(1.5,27.9)(1.7,26.7)(1.9,25.5)(2,21.8)}
{(-1,4.8)(-0.5,4.8)(0,4.8)(0.1,18.2)(0.2,33.9)(0.3,40.6)(0.4,41.8)(0.5,42.4)(0.6,40.6)(0.8,38.8)(1,38.2)(1.2,35.1)(1.4,32.1)(1.6,28.5)(1.8,26.7)(2,26.1)}
{(-1,6.1)(-0.8,6.7)(-0.6,4.6)(-0.4,3)(-0.2,4.6)(-0.1,3.6)(0,4.8)(0.1,19.4)(0.2,35.1)(0.3,42.7)(0.4,45.1)(0.5,43.6)(0.6,37.6)(0.7,29.1)(0.8,26.1)(1,26.4)(1.2,24.8)(1.4,22.4)(1.5,18.4)(1.6,19.4)(1.7,22.4)(1.9,23)(2,14.5)}
{(-1,5.5)(-0.5,5.5)(0,4.8)(0.1,9.7)(0.2,17)(0.3,21.2)(0.4,23.6)(0.6,25.5)(0.8,25.7)(1,24.8)(1.2,24.2)(1.4,23.3)(1.6,22.4)(1.8,21.2)(2,19.1)}
{(-1,5.5)(-0.5,4.8)(0,5.1)(0.1,14.5)(0.2,25.5)(0.3,30.1)(0.4,30.9)(0.5,30.1)(0.7,27.9)(0.9,26.7)(1.1,24.8)(1.3,23.6)(1.5,23)(1.7,23)(1.9,22.8)(2,22.4)}
{(-1,5.1)(-0.5,5.5)(0,4.8)(0.1,15.8)(0.2,30.3)(0.3,35.1)(0.4,36.1)(0.5,37)(0.6,37.6)(0.8,35.8)(1,33.9)(1.2,33.3)(1.4,32.5)(1.6,28.5)(1.8,29.1)(2,28.8)}
{(-1,5.5)(-0.5,5.5)(0,5.1)(0.1,12.1)(0.2,23)(0.3,26.1)(0.4,24.8)(0.5,26.4)(0.7,27.9)(0.9,26.7)(1.1,25.5)(1.3,24.2)(1.5,23)(1.7,21.8)(1.9,21.2)(2,21.8)}
\end{axis}
\end{tikzpicture}
\end{document}
